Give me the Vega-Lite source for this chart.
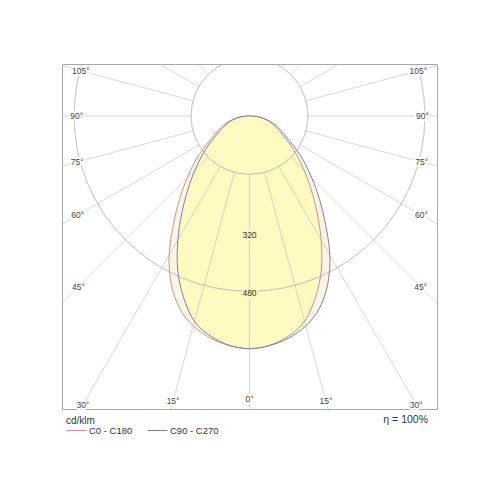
{
  "$schema": "https://vega.github.io/schema/vega-lite/v6.json",
  "description": "Polar light distribution curve, C0-C180 and C90-C270 planes, cd/klm.",
  "width": 375,
  "height": 345,
  "autosize": "none",
  "padding": {"left": 62, "top": 64, "right": 63, "bottom": 91},
  "background": "white",
  "config": {
    "view": {"stroke": "#a8a8a8", "strokeWidth": 1},
    "font": "Liberation Sans"
  },
  "title": {
    "text": "η = 100%",
    "orient": "bottom",
    "anchor": "end",
    "fontSize": 10.5,
    "fontWeight": "normal",
    "color": "#333",
    "offset": 5,
    "dx": -9,
    "dy": -25
  },
  "datasets": {
    "curves": [
      {"c": "C0 - C180", "g": -90, "i": 0}, {"c": "C0 - C180", "g": -85, "i": 22}, {"c": "C0 - C180", "g": -80, "i": 40},
      {"c": "C0 - C180", "g": -75, "i": 58}, {"c": "C0 - C180", "g": -70, "i": 78}, {"c": "C0 - C180", "g": -65, "i": 95},
      {"c": "C0 - C180", "g": -60, "i": 118}, {"c": "C0 - C180", "g": -55, "i": 152}, {"c": "C0 - C180", "g": -50, "i": 195},
      {"c": "C0 - C180", "g": -45, "i": 242}, {"c": "C0 - C180", "g": -40, "i": 298}, {"c": "C0 - C180", "g": -35, "i": 363},
      {"c": "C0 - C180", "g": -30, "i": 440}, {"c": "C0 - C180", "g": -25, "i": 507}, {"c": "C0 - C180", "g": -20, "i": 560},
      {"c": "C0 - C180", "g": -15, "i": 595}, {"c": "C0 - C180", "g": -10, "i": 617}, {"c": "C0 - C180", "g": -5, "i": 631},
      {"c": "C0 - C180", "g": 0, "i": 637}, {"c": "C0 - C180", "g": 5, "i": 630}, {"c": "C0 - C180", "g": 10, "i": 612},
      {"c": "C0 - C180", "g": 15, "i": 582}, {"c": "C0 - C180", "g": 20, "i": 528}, {"c": "C0 - C180", "g": 25, "i": 465},
      {"c": "C0 - C180", "g": 30, "i": 392}, {"c": "C0 - C180", "g": 35, "i": 322}, {"c": "C0 - C180", "g": 40, "i": 262},
      {"c": "C0 - C180", "g": 45, "i": 212}, {"c": "C0 - C180", "g": 50, "i": 170}, {"c": "C0 - C180", "g": 55, "i": 135},
      {"c": "C0 - C180", "g": 60, "i": 105}, {"c": "C0 - C180", "g": 65, "i": 84}, {"c": "C0 - C180", "g": 70, "i": 68},
      {"c": "C0 - C180", "g": 75, "i": 52}, {"c": "C0 - C180", "g": 80, "i": 36}, {"c": "C0 - C180", "g": 85, "i": 20},
      {"c": "C0 - C180", "g": 90, "i": 0},
      {"c": "C90 - C270", "g": -90, "i": 0}, {"c": "C90 - C270", "g": -85, "i": 20}, {"c": "C90 - C270", "g": -80, "i": 36},
      {"c": "C90 - C270", "g": -75, "i": 52}, {"c": "C90 - C270", "g": -70, "i": 68}, {"c": "C90 - C270", "g": -65, "i": 84},
      {"c": "C90 - C270", "g": -60, "i": 105}, {"c": "C90 - C270", "g": -55, "i": 135}, {"c": "C90 - C270", "g": -50, "i": 170},
      {"c": "C90 - C270", "g": -45, "i": 212}, {"c": "C90 - C270", "g": -40, "i": 262}, {"c": "C90 - C270", "g": -35, "i": 322},
      {"c": "C90 - C270", "g": -30, "i": 392}, {"c": "C90 - C270", "g": -25, "i": 465}, {"c": "C90 - C270", "g": -20, "i": 528},
      {"c": "C90 - C270", "g": -15, "i": 582}, {"c": "C90 - C270", "g": -10, "i": 612}, {"c": "C90 - C270", "g": -5, "i": 630},
      {"c": "C90 - C270", "g": 0, "i": 637}, {"c": "C90 - C270", "g": 5, "i": 631}, {"c": "C90 - C270", "g": 10, "i": 617},
      {"c": "C90 - C270", "g": 15, "i": 595}, {"c": "C90 - C270", "g": 20, "i": 560}, {"c": "C90 - C270", "g": 25, "i": 507},
      {"c": "C90 - C270", "g": 30, "i": 440}, {"c": "C90 - C270", "g": 35, "i": 363}, {"c": "C90 - C270", "g": 40, "i": 298},
      {"c": "C90 - C270", "g": 45, "i": 242}, {"c": "C90 - C270", "g": 50, "i": 195}, {"c": "C90 - C270", "g": 55, "i": 152},
      {"c": "C90 - C270", "g": 60, "i": 118}, {"c": "C90 - C270", "g": 65, "i": 95}, {"c": "C90 - C270", "g": 70, "i": 78},
      {"c": "C90 - C270", "g": 75, "i": 58}, {"c": "C90 - C270", "g": 80, "i": 40}, {"c": "C90 - C270", "g": 85, "i": 22},
      {"c": "C90 - C270", "g": 90, "i": 0}
    ],
    "rings": [{"r": 160}, {"r": 320}, {"r": 480}, {"r": 640}, {"r": 800}],
    "rays": [
      {"g": 0}, {"g": 15}, {"g": 30}, {"g": 45}, {"g": 60}, {"g": 75}, {"g": 90}, {"g": 105},
      {"g": 120}, {"g": 135}, {"g": 150}, {"g": 165}, {"g": 180}, {"g": 195}, {"g": 210}, {"g": 225},
      {"g": 240}, {"g": 255}, {"g": 270}, {"g": 285}, {"g": 300}, {"g": 315}, {"g": 330}, {"g": 345}
    ],
    "ringLabels": [{"v": 320}, {"v": 480}],
    "angleLabels": [
      {"t": "105°", "g": -105, "r": 478}, {"t": "90°", "g": -90, "r": 473}, {"t": "75°", "g": -75, "r": 488},
      {"t": "60°", "g": -60, "r": 543}, {"t": "45°", "g": -45, "r": 662}, {"t": "30°", "g": -30, "r": 912},
      {"t": "15°", "g": -15, "r": 808}, {"t": "0°", "g": 0, "r": 776}, {"t": "15°", "g": 15, "r": 808},
      {"t": "30°", "g": 30, "r": 912}, {"t": "45°", "g": 45, "r": 662}, {"t": "60°", "g": 60, "r": 543},
      {"t": "75°", "g": 75, "r": 488}, {"t": "90°", "g": 90, "r": 473}, {"t": "105°", "g": 105, "r": 478}
    ]
  },
  "layer": [
    {
      "data": {"name": "curves"},
      "transform": [
        {"filter": "(datum.c == 'C0 - C180' && datum.g <= 0) || (datum.c == 'C90 - C270' && datum.g >= 0)"},
        {"calculate": "datum.i * sin(datum.g * PI / 180)", "as": "x"},
        {"calculate": "-datum.i * cos(datum.g * PI / 180)", "as": "y"}
      ],
      "mark": {"type": "line", "interpolate": "cardinal", "fill": "#fbf6e3", "strokeOpacity": 0},
      "encoding": {
        "x": {"field": "x", "type": "quantitative", "scale": {"domain": [-513, 513], "nice": false, "zero": false}, "axis": null},
        "y": {"field": "y", "type": "quantitative", "scale": {"domain": [-802, 142], "nice": false, "zero": false}, "axis": null},
        "order": {"field": "g", "type": "quantitative"}
      }
    },
    {
      "data": {"name": "curves"},
      "transform": [
        {"filter": "(datum.c == 'C0 - C180' && datum.g >= 0) || (datum.c == 'C90 - C270' && datum.g <= 0)"},
        {"calculate": "datum.i * sin(datum.g * PI / 180)", "as": "x"},
        {"calculate": "-datum.i * cos(datum.g * PI / 180)", "as": "y"}
      ],
      "mark": {"type": "line", "interpolate": "cardinal", "fill": "#fff9c2", "strokeOpacity": 0},
      "encoding": {
        "x": {"field": "x", "type": "quantitative"},
        "y": {"field": "y", "type": "quantitative"},
        "order": {"field": "g", "type": "quantitative"}
      }
    },
    {
      "data": {"name": "rings"},
      "mark": {"type": "arc", "filled": false, "stroke": "#b4b4b4", "strokeOpacity": 0.5, "strokeWidth": 1, "theta": 0, "theta2": 6.2832, "clip": true},
      "encoding": {
        "x": {"datum": 0, "type": "quantitative"},
        "y": {"datum": 0, "type": "quantitative"},
        "radius": {"field": "r", "type": "quantitative", "scale": {"type": "linear", "domain": [0, 1000], "range": [0, 365.5], "zero": true}, "legend": null}
      }
    },
    {
      "data": {"name": "rays"},
      "transform": [
        {"calculate": "160 * sin(datum.g * PI / 180)", "as": "x"},
        {"calculate": "-160 * cos(datum.g * PI / 180)", "as": "y"},
        {"calculate": "1100 * sin(datum.g * PI / 180)", "as": "x2"},
        {"calculate": "-1100 * cos(datum.g * PI / 180)", "as": "y2"}
      ],
      "mark": {"type": "rule", "stroke": "#b4b4b4", "strokeOpacity": 0.5, "strokeWidth": 1, "clip": true},
      "encoding": {
        "x": {"field": "x", "type": "quantitative"},
        "y": {"field": "y", "type": "quantitative"},
        "x2": {"field": "x2"},
        "y2": {"field": "y2"}
      }
    },
    {
      "data": {"name": "curves"},
      "transform": [
        {"calculate": "datum.i * sin(datum.g * PI / 180)", "as": "x"},
        {"calculate": "-datum.i * cos(datum.g * PI / 180)", "as": "y"}
      ],
      "mark": {"type": "line", "interpolate": "cardinal", "strokeWidth": 1},
      "encoding": {
        "x": {"field": "x", "type": "quantitative"},
        "y": {"field": "y", "type": "quantitative"},
        "order": {"field": "g", "type": "quantitative"},
        "color": {
          "field": "c",
          "type": "nominal",
          "scale": {"domain": ["C0 - C180", "C90 - C270"], "range": ["#cf8f91", "#7f7fb0"]},
          "legend": {
            "orient": "none",
            "legendX": 4,
            "legendY": 352,
            "direction": "horizontal",
            "title": "cd/klm",
            "titleFontSize": 10,
            "titleFontWeight": "normal",
            "titleColor": "#333",
            "titlePadding": -6,
            "labelFontSize": 9.5,
            "labelColor": "#333",
            "labelOffset": 2,
            "symbolType": "stroke",
            "symbolSize": 400,
            "symbolStrokeWidth": 1,
            "columnPadding": 12
          }
        }
      }
    },
    {
      "data": {"name": "ringLabels"},
      "transform": [
        {"calculate": "0", "as": "x"},
        {"calculate": "-datum.v", "as": "y"}
      ],
      "mark": {"type": "text", "fontSize": 8.5, "color": "#333", "baseline": "middle", "dy": 2, "stroke": "#fff9c2", "strokeWidth": 4},
      "encoding": {
        "x": {"field": "x", "type": "quantitative"},
        "y": {"field": "y", "type": "quantitative"},
        "text": {"field": "v", "type": "nominal"}
      }
    },
    {
      "data": {"name": "ringLabels"},
      "transform": [
        {"calculate": "0", "as": "x"},
        {"calculate": "-datum.v", "as": "y"}
      ],
      "mark": {"type": "text", "fontSize": 8.5, "color": "#333", "baseline": "middle", "dy": 2},
      "encoding": {
        "x": {"field": "x", "type": "quantitative"},
        "y": {"field": "y", "type": "quantitative"},
        "text": {"field": "v", "type": "nominal"}
      }
    },
    {
      "data": {"name": "angleLabels"},
      "transform": [
        {"calculate": "datum.r * sin(datum.g * PI / 180)", "as": "x"},
        {"calculate": "-datum.r * cos(datum.g * PI / 180)", "as": "y"}
      ],
      "mark": {"type": "text", "fontSize": 8.5, "color": "white", "baseline": "middle", "stroke": "white", "strokeWidth": 4},
      "encoding": {
        "x": {"field": "x", "type": "quantitative"},
        "y": {"field": "y", "type": "quantitative"},
        "text": {"field": "t", "type": "nominal"}
      }
    },
    {
      "data": {"name": "angleLabels"},
      "transform": [
        {"calculate": "datum.r * sin(datum.g * PI / 180)", "as": "x"},
        {"calculate": "-datum.r * cos(datum.g * PI / 180)", "as": "y"}
      ],
      "mark": {"type": "text", "fontSize": 8.5, "color": "#444", "baseline": "middle"},
      "encoding": {
        "x": {"field": "x", "type": "quantitative"},
        "y": {"field": "y", "type": "quantitative"},
        "text": {"field": "t", "type": "nominal"}
      }
    }
  ]
}
